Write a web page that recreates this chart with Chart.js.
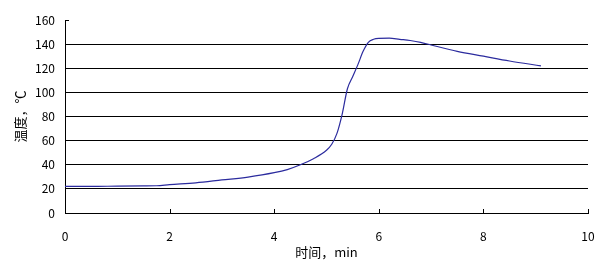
<!DOCTYPE html>
<html lang="zh">
<head>
<meta charset="UTF-8">
<title>温度曲线</title>
<script src="https://cdn.jsdelivr.net/npm/chart.js"></script>
<style>
    html, body { margin: 0; padding: 0; background: #fff; }
    #wrap { width: 610px; height: 270px; }
</style>
</head>
<body>
<div id="wrap"><canvas id="tempChart"></canvas></div>
<script>
    // 时间, min
    const times = [0, 0.5, 1, 1.5, 1.75, 2, 2.5, 3, 3.5, 4, 4.25, 4.5, 4.75, 5, 5.1, 5.2, 5.3, 5.4, 5.5, 5.6, 5.7, 5.8, 5.9, 6, 6.2, 6.4, 6.6, 6.8, 7, 7.5, 8, 8.5, 9.1];
    // 温度, ℃
    const temps = [22, 22, 22.3, 22.5, 22.6, 23.5, 25, 27.4, 29.8, 33.4, 36, 40, 45, 52, 57, 66, 82, 103, 113, 123, 134, 141.5, 144, 144.8, 145, 144, 143, 141.5, 139.3, 134, 130, 126, 122];
    const xTicks = [0, 2, 4, 6, 8, 10];
    const yTicks = [0, 20, 40, 60, 80, 100, 120, 140, 160];

    const points = times.map((t, i) => ({ x: t, y: temps[i] }));
    const tickFont = { family: "'Noto Sans CJK SC', 'DejaVu Sans', sans-serif", size: 12 };
    const titleFont = { family: "'Noto Sans CJK SC', 'DejaVu Sans', sans-serif", size: 13 };

    // small inward tick marks like the original
    const innerTicks = {
        id: 'innerTicks',
        afterDraw(chart) {
            const ctx = chart.ctx;
            const xs = chart.scales.x, ys = chart.scales.y;
            ctx.save();
            ctx.strokeStyle = '#000';
            ctx.lineWidth = 1;
            ctx.beginPath();
            xTicks.forEach(v => {
                const px = Math.round(xs.getPixelForValue(v)) + 0.5;
                ctx.moveTo(px, ys.bottom);
                ctx.lineTo(px, ys.bottom - 4);
            });
            const py = Math.round(ys.getPixelForValue(160)) + 0.5;
            ctx.moveTo(xs.left, py);
            ctx.lineTo(xs.left + 4, py);
            ctx.stroke();
            ctx.restore();
        }
    };

    new Chart(document.getElementById('tempChart'), {
        type: 'line',
        data: {
            datasets: [{
                data: points,
                borderColor: '#2b2b9e',
                borderWidth: 1.2,
                pointRadius: 0,
                tension: 0.4,
                cubicInterpolationMode: 'monotone',
                fill: false
            }]
        },
        options: {
            responsive: true,
            maintainAspectRatio: false,
            animation: false,
            layout: { padding: { left: 0, right: 22, top: 20, bottom: 0 } },
            plugins: {
                legend: { display: false },
                tooltip: { enabled: false }
            },
            scales: {
                x: {
                    type: 'linear',
                    min: 0,
                    max: 10,
                    afterBuildTicks: s => { s.ticks = xTicks.map(v => ({ value: v })); },
                    afterFit: s => { s.height = 57; },
                    grid: { display: false },
                    border: { display: true, color: '#000', width: 1 },
                    ticks: { color: '#000', font: tickFont, padding: 8, maxRotation: 0 },
                    title: { display: true, text: '时间，min', color: '#000', font: titleFont, padding: { top: 2, bottom: 10 } }
                },
                y: {
                    min: 0,
                    max: 160,
                    afterBuildTicks: s => { s.ticks = yTicks.map(v => ({ value: v })); },
                    afterFit: s => { s.width = 65; },
                    grid: {
                        drawTicks: false,
                        color: ctx => (ctx.tick && ctx.tick.value === 160) ? 'rgba(0,0,0,0)' : '#000',
                        lineWidth: 1
                    },
                    border: { display: true, color: '#000', width: 1 },
                    ticks: { color: '#000', font: tickFont, padding: 10 },
                    title: { display: true, text: '温度，℃', color: '#000', font: titleFont, padding: { top: 12, bottom: 4 } }
                }
            }
        },
        plugins: [innerTicks]
    });
</script>
</body>
</html>
